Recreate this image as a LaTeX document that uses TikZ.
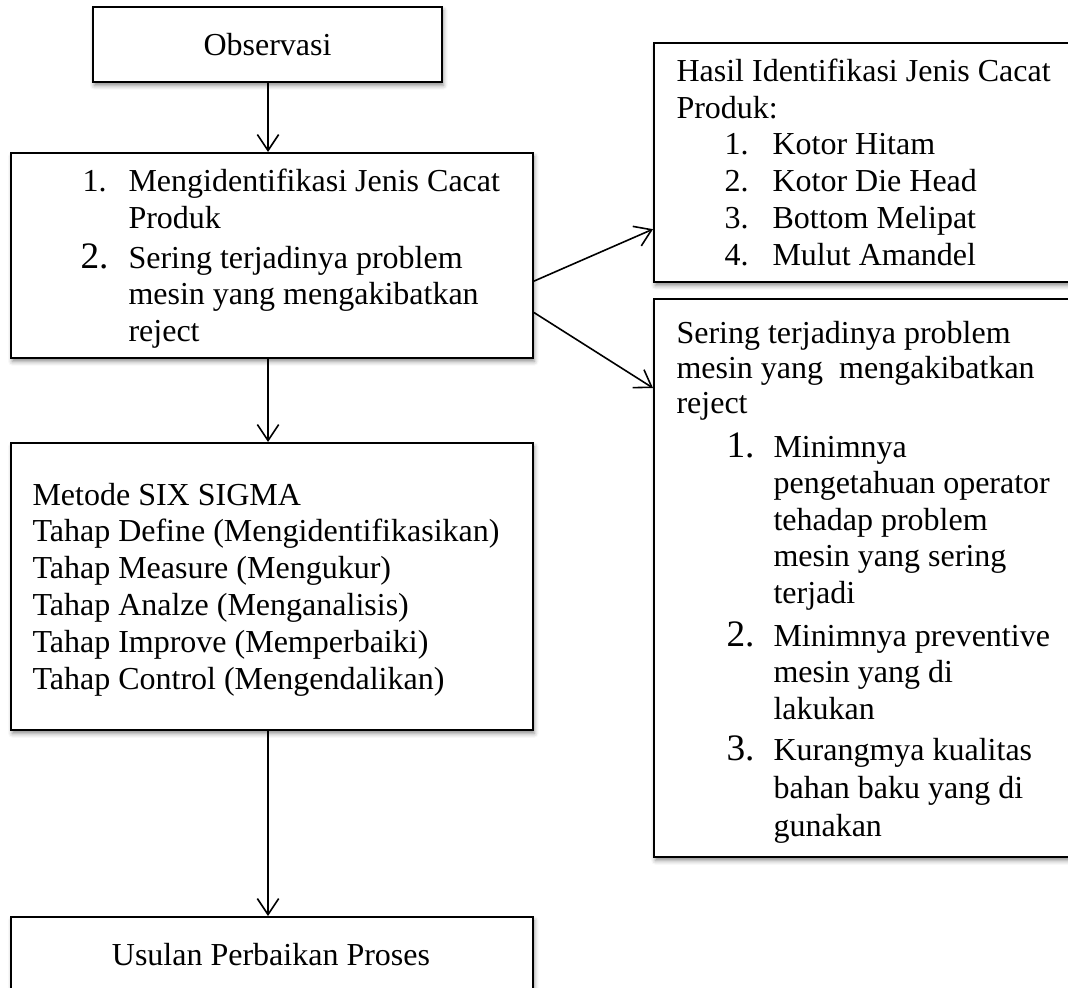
\documentclass[tikz,border=0pt]{standalone}
\usepackage{fontspec}
\setmainfont{Liberation Serif}
\usetikzlibrary{arrows.meta,shadows.blur,fit}
\begin{document}
\begin{tikzpicture}[x=0.375pt,y=-0.375pt,
  box/.style={draw=black,line width=0.75pt,fill=white,inner sep=0pt,
    blur shadow={shadow xshift=0.5pt,shadow yshift=-1.3pt,shadow blur radius=1.6pt,shadow opacity=45}},
  conn/.style={line width=0.6pt,-{Straight Barb[length=6pt,width=8pt,line width=0.6pt]}},
  txt/.style={anchor=base west,inner sep=0pt,text width=#1,align=left,
    execute at begin node={\spaceskip=0pt\xspaceskip=0pt},
    font=\fontsize{12}{13.85}\selectfont},
  txt/.default=150pt,
  num/.style={anchor=base west,inner sep=0pt,font=\fontsize{12}{13.85}\selectfont},
  bignum/.style={anchor=base west,inner sep=0pt,font=\fontsize{14}{16}\selectfont},
  ctr/.style={anchor=base,inner sep=0pt,font=\fontsize{12}{13.85}\selectfont}]
\useasboundingbox (0,0) rectangle (1068,987);
\clip (0,0) rectangle (1068,987);

% boxes
\node[box,fit={(93,7) (442,82)}] (obs) {};
\node[box,fit={(11,153) (533,358)}] (ident) {};
\node[box,fit={(11,443) (533,730)}] (six) {};
\node[box,fit={(11,917) (533,1010)}] (usul) {};
\node[box,fit={(654,43) (1085,282)}] (hasil) {};
\node[box,fit={(654,299) (1085,857)}] (sering) {};

% texts
\node[ctr] (tobs) at (267.5,56) {Observasi};

\node[num] (n1) at (82,192) {1.};
\node[txt] (i1) at (128,192) {Mengidentifikasi Jenis Cacat\\Produk};
\node[bignum] (n2) at (80,268) {2.};
\node[txt] (i2) at (128,268) {Sering terjadinya problem\\mesin yang mengakibatkan\\reject};

\node[txt=190pt,font=\fontsize{12}{13.85}\selectfont] (tsix) at (32,505) {Metode SIX SIGMA\\Tahap Define (Mengidentifikasikan)\\Tahap Measure (Mengukur)\\Tahap Analze (Menganalisis)\\Tahap Improve (Memperbaiki)\\Tahap Control (Mengendalikan)};

\node[ctr] (tusul) at (271,965) {Usulan Perbaikan Proses};

\node[txt=160pt,font=\fontsize{12}{13.7}\selectfont] (thasil) at (676,82) {Hasil Identifikasi Jenis Cacat\\Produk:};
\node[num] (h1) at (724,155) {1.};
\node[num] (h2) at (724,192) {2.};
\node[num] (h3) at (724,228) {3.};
\node[num] (h4) at (724,265) {4.};
\node[txt] (k1) at (772,155) {Kotor Hitam};
\node[txt] (k2) at (772,192) {Kotor Die Head};
\node[txt] (k3) at (772,228) {Bottom Melipat};
\node[txt] (k4) at (772,265) {Mulut Amandel};

\node[txt=160pt,font=\fontsize{12}{13.3}\selectfont] (tsering) at (676,343) {Sering terjadinya problem\\mesin yang\ \ mengakibatkan\\reject};
\node[bignum] (s1) at (726,457) {1.};
\node[txt,font=\fontsize{12}{13.7}\selectfont] (m1) at (773,457) {Minimnya\\pengetahuan operator\\tehadap problem\\mesin yang sering\\terjadi};
\node[bignum] (s2) at (726,646) {2.};
\node[txt,font=\fontsize{12}{13.7}\selectfont] (m2) at (773,646) {Minimnya preventive\\mesin yang di\\lakukan};
\node[bignum] (s3) at (726,760) {3.};
\node[txt,font=\fontsize{12}{14.3}\selectfont] (m3) at (773,760) {Kurangmya kualitas\\bahan baku yang di\\gunakan};

% connectors
\draw[conn] (obs.south -| 268,0) -- (ident.north -| 268,0);
\draw[conn] (ident.south -| 268,0) -- (six.north -| 268,0);
\draw[conn] (six.south -| 268,0) -- (usul.north -| 268,0);
\draw[conn] ([yshift=-9.6pt]ident.east) -- ([yshift=-25pt]hasil.west);
\draw[conn] ([yshift=-21.4pt]ident.east) -- ([yshift=71.25pt]sering.west);
\end{tikzpicture}
\end{document}
